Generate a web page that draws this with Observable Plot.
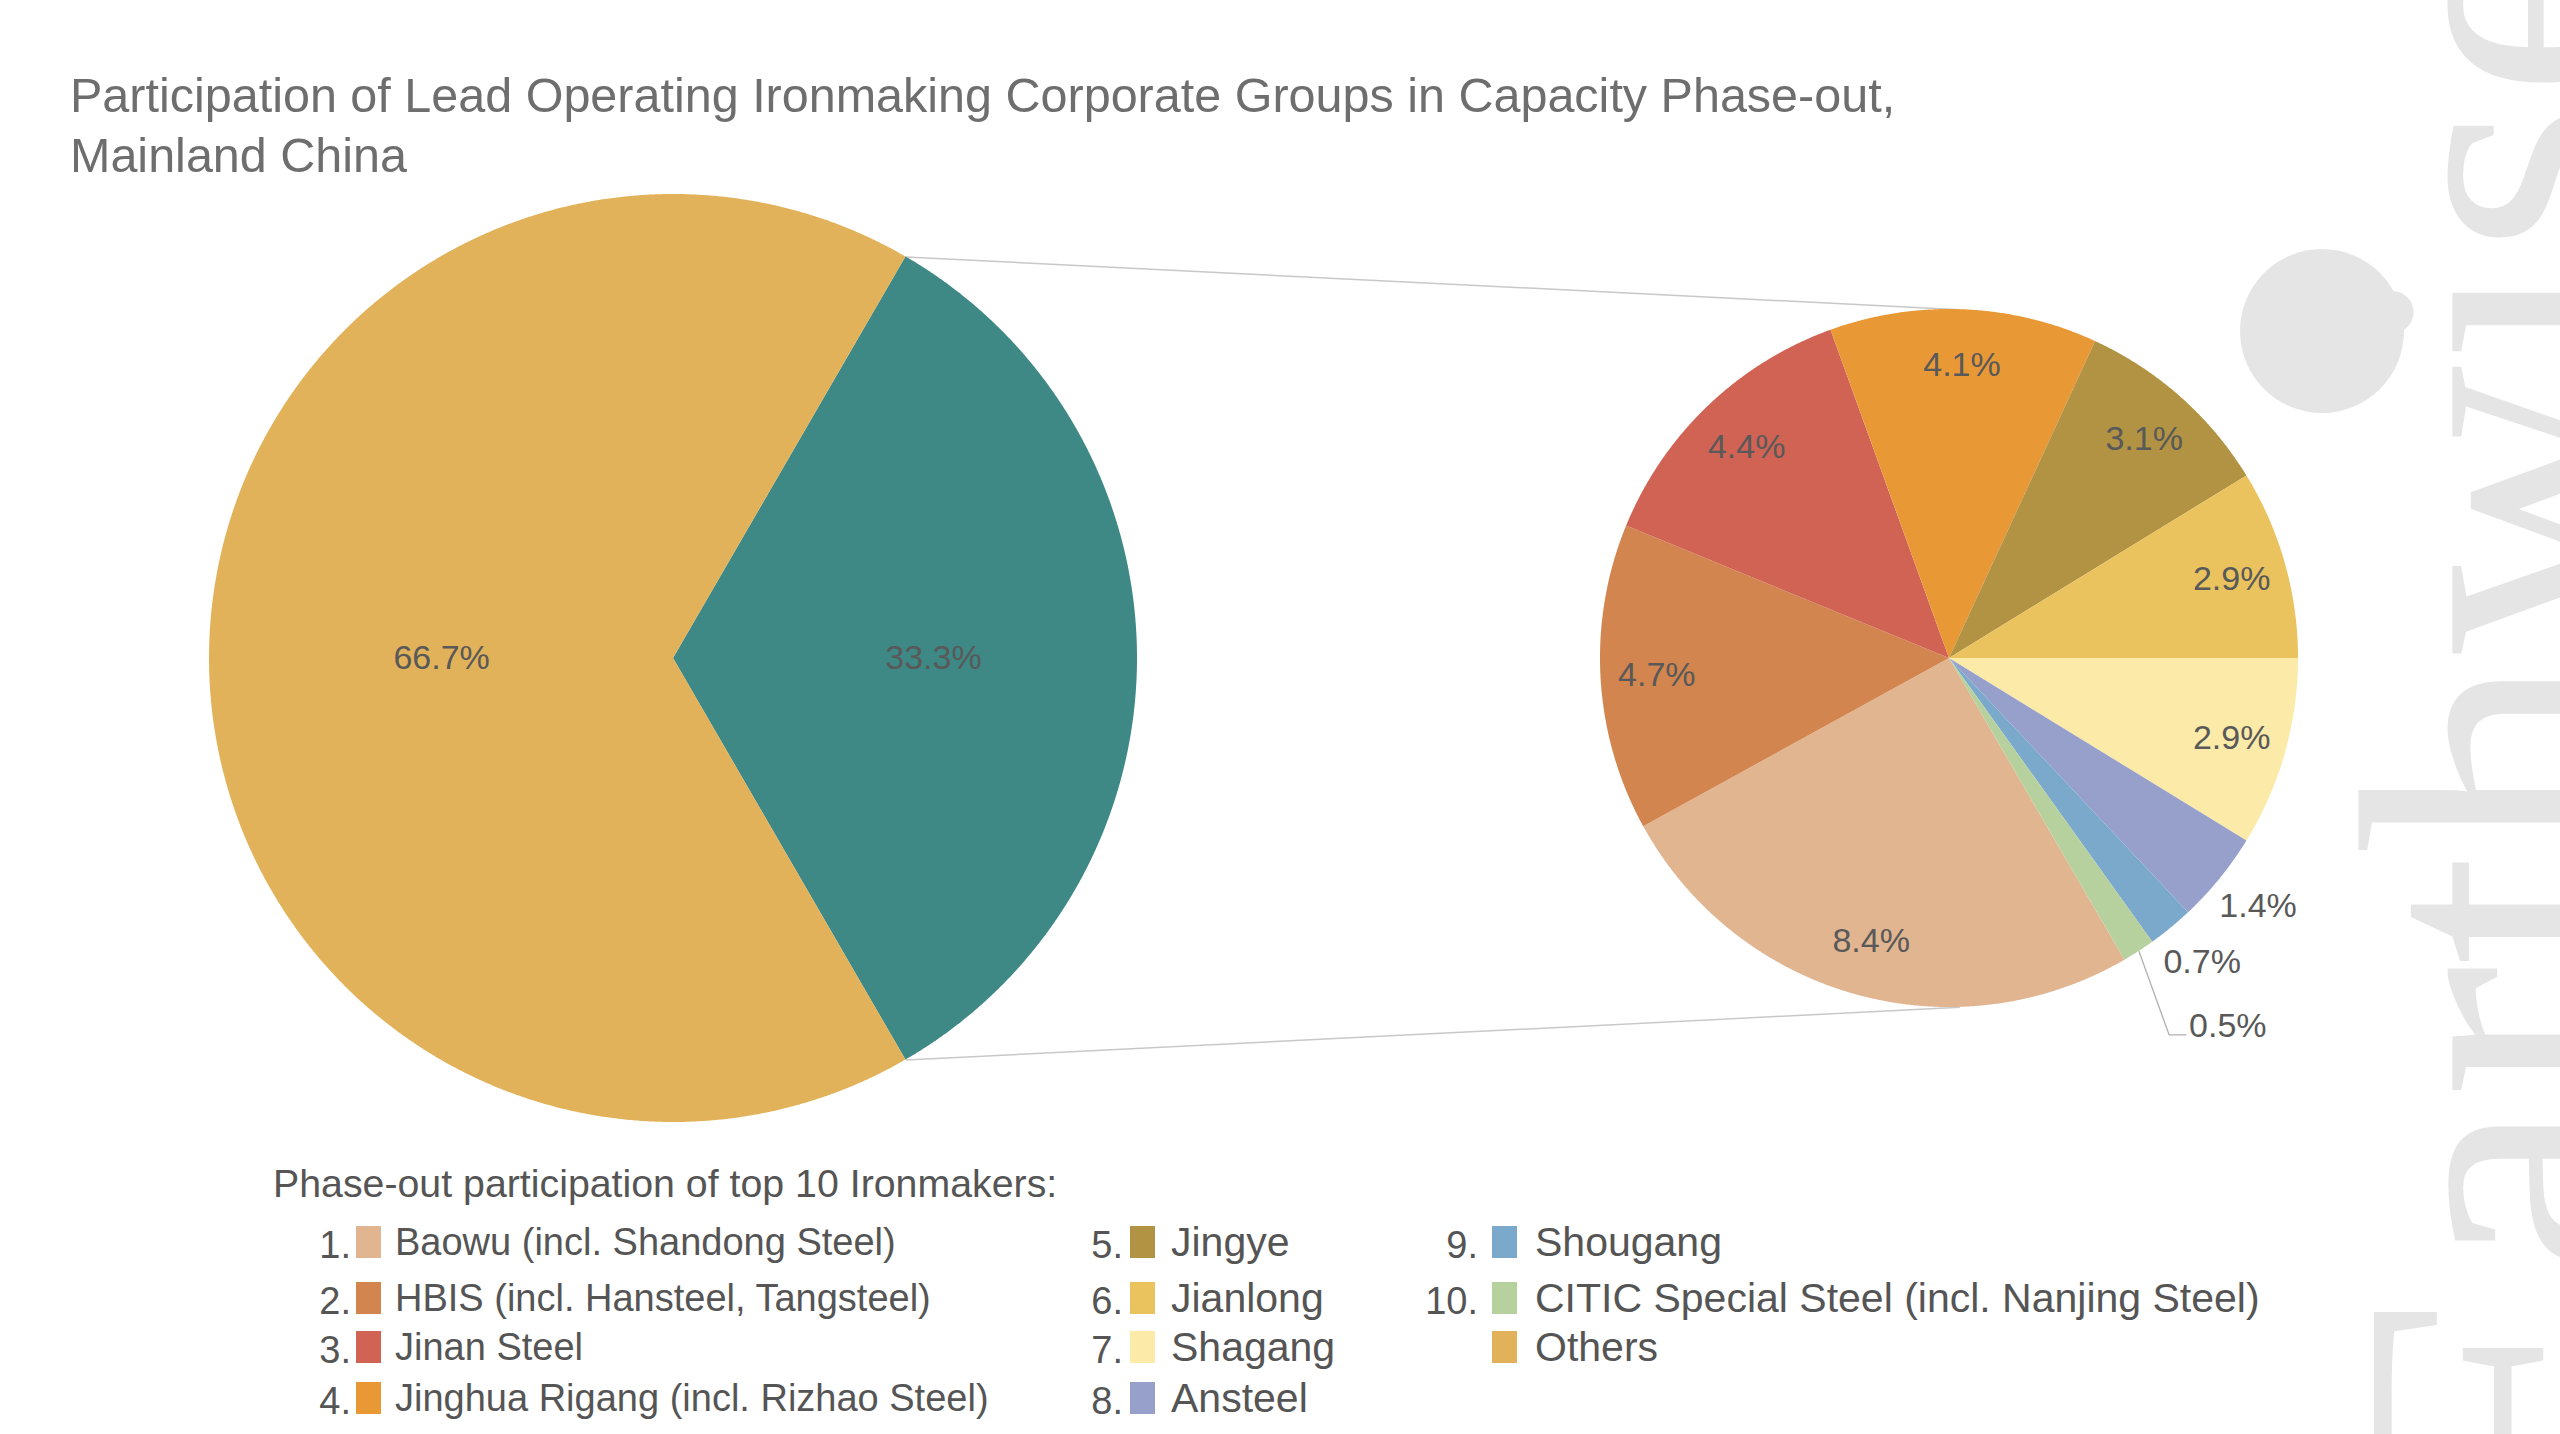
<!DOCTYPE html>
<html><head><meta charset="utf-8">
<script src="https://cdn.jsdelivr.net/npm/d3@7"></script>
<script src="https://cdn.jsdelivr.net/npm/@observablehq/plot@0.6"></script>
<style>
html,body{margin:0;padding:0;background:#fff;}
body{width:2560px;height:1434px;position:relative;overflow:hidden;font-family:"Liberation Sans",Arial,sans-serif;}
#wm{position:absolute;left:0;top:0;width:2560px;height:1434px;z-index:0;pointer-events:none;}
#title{position:relative;z-index:2;height:185px;box-sizing:border-box;padding:65px 0 0 70px;font-size:48.5px;line-height:60px;color:#6e6e6e;}
#chart{position:relative;z-index:2;height:965px;}
#legend{position:relative;z-index:2;height:284px;color:#555;font-size:38px;}
#legend div{position:absolute;white-space:pre;line-height:1;}
</style></head>
<body>
<svg id="wm" xmlns="http://www.w3.org/2000/svg">
  <text transform="translate(2636,1520) rotate(-90)" font-family="Liberation Serif, serif" font-size="400" fill="#e5e5e5">Earthwise</text>
  <circle cx="2322" cy="331" r="82" fill="#e5e5e5"></circle>
</svg>
<div id="title"></div>
<div id="chart"></div>
<div id="legend"></div>
<script>
// ---- data ----
const titleLines = ["Participation of Lead Operating Ironmaking Corporate Groups in Capacity Phase-out,", "Mainland China"];
const overviewLabels = ["Top 10 ironmakers", "Others"];
const overviewShares = [33.3, 66.7];
const overviewColors = ["#3e8885", "#e2b25a"];
const companies = ["Baowu (incl. Shandong Steel)", "HBIS (incl. Hansteel, Tangsteel)", "Jinan Steel", "Jinghua Rigang (incl. Rizhao Steel)", "Jingye", "Jianlong", "Shagang", "Ansteel", "Shougang", "CITIC Special Steel (incl. Nanjing Steel)"];
const shares = [8.4, 4.7, 4.4, 4.1, 3.1, 2.9, 2.9, 1.4, 0.7, 0.5];
const companyColors = ["#e1b590", "#d2854e", "#d16355", "#e99836", "#b29343", "#ebc35e", "#fbeaa8", "#979fcb", "#7ba9cb", "#b7d19e"];
const legendTitle = "Phase-out participation of top 10 Ironmakers:";
const othersLabel = "Others";

// ---- title ----
document.getElementById("title").innerHTML = titleLines.join("<br>");

// ---- geometry ----
const W = 2560, H = 965;
const big = {cx: 673, cy: 473, r: 464};
const small = {cx: 1949, cy: 473, r: 349};
const pt = (c, a, k) => ({x: c.cx + c.r * k * Math.sin(a), y: c.cy - c.r * k * Math.cos(a)});

function sliceRows(key, a0, a1, c) {
  const n = Math.max(4, Math.ceil((a1 - a0) / (Math.PI / 720)));
  const rows = [];
  for (let i = 0; i <= n; i++) {
    const a = a0 + (a1 - a0) * i / n;
    const p = pt(c, a, 1);
    rows.push({key, x1: c.cx, y1: c.cy, x2: p.x, y2: p.y});
  }
  return rows;
}

// overview pie: top-10 slice centred on the east direction
const ovTotal = d3.sum(overviewShares);
const ovStart = Math.PI / 2 - Math.PI * overviewShares[0] / ovTotal;
const ovArcs = d3.pie().sort(null).startAngle(ovStart).endAngle(ovStart + 2 * Math.PI)(overviewShares);

// detail pie: Baowu..CITIC clockwise, with CITIC ending at east
const total = d3.sum(shares);
const dStart = Math.PI / 2 + 2 * Math.PI * d3.sum(shares.slice(6)) / total;
const dArcs = d3.pie().sort(null).startAngle(dStart).endAngle(dStart + 2 * Math.PI)(shares);

const rows = [];
ovArcs.forEach((a, i) => rows.push(...sliceRows(overviewLabels[i], a.startAngle, a.endAngle, big)));
dArcs.forEach((a, i) => rows.push(...sliceRows(companies[i], a.startAngle, a.endAngle, small)));

const fmt = v => v.toFixed(1) + "%";
const ovText = ovArcs.map((a, i) => {
  const p = pt(big, (a.startAngle + a.endAngle) / 2, 0.53);
  return {x: p.x + 14, y: p.y, t: fmt(overviewShares[i])};
});

const inText = [], outMid = [], outStart = [], leaders = [];
let prevY = -Infinity;
const norm = a => ((a - Math.PI / 2) % (2 * Math.PI) + 2 * Math.PI) % (2 * Math.PI);
dArcs.map((a, i) => ({a, i})).sort((p, q) => norm(p.a.startAngle) - norm(q.a.startAngle))
  .forEach(({a, i}) => {
    const mid = (a.startAngle + a.endAngle) / 2;
    if (shares[i] >= 2) {
      inText.push({...pt(small, mid, 0.84), t: fmt(shares[i])});
    } else {
      const p = pt(small, mid, 1.14);
      if (p.y - prevY < 55) {
        const e = pt(small, mid, 1);
        const y = prevY + 60, x = e.x + 50;
        outStart.push({x, y, t: fmt(shares[i])});
        leaders.push({x: e.x, y: e.y}, {x: x - 20, y: y + 9}, {x: x - 3, y: y + 9});
        prevY = y;
      } else {
        outMid.push({x: p.x, y: p.y - 4, t: fmt(shares[i])});
        prevY = p.y;
      }
    }
  });

const topL = ovArcs[0];
const connectors = [
  {a: pt(big, topL.startAngle, 1), b: pt(small, 0.03, 1)},
  {a: pt(big, topL.endAngle, 1), b: pt(small, Math.PI - 0.03, 1)}
].map(d => ({x1: d.a.x, y1: d.a.y, x2: d.b.x, y2: d.b.y}));

const font = "Liberation Sans, Arial, sans-serif";
const txt = {x: "x", y: "y", text: "t", fontSize: 34, fill: "#595959", fontFamily: font};
const plot = Plot.plot({
  width: W, height: H, margin: 0,
  style: {background: "transparent", overflow: "visible"},
  x: {domain: [0, W], range: [0, W], axis: null},
  y: {domain: [0, H], range: [0, H], axis: null},
  color: {domain: [...companies, ...overviewLabels], range: [...companyColors, ...overviewColors]},
  marks: [
    Plot.link(connectors, {x1: "x1", y1: "y1", x2: "x2", y2: "y2", stroke: "#c8c8c8", strokeWidth: 1.5}),
    Plot.area(rows, {x1: "x1", y1: "y1", x2: "x2", y2: "y2", z: "key", fill: "key", curve: "linear"}),
    Plot.line(leaders, {x: "x", y: "y", stroke: "#b0b0b0", strokeWidth: 1.3}),
    Plot.text(ovText, txt),
    Plot.text(inText, txt),
    Plot.text(outMid, txt),
    Plot.text(outStart, {...txt, textAnchor: "start"})
  ]
});
document.getElementById("chart").appendChild(plot);

// ---- legend ----
const lg = document.getElementById("legend");
const TOP = 1150;
function add(html, css) { const d = document.createElement("div"); d.textContent = html; Object.assign(d.style, css); lg.appendChild(d); return d; }
add(legendTitle, {left: "273px", top: (1184 - TOP - 20) + "px", fontSize: "39.3px"});
const cols = [{num: 351, sw: 356, lab: 395, fs: 38}, {num: 1123, sw: 1130, lab: 1171, fs: 41}, {num: 1478, sw: 1492, lab: 1535, fs: 41}];
const rowY = [1242, 1298, 1347, 1398];
const items = companies.map((c, i) => ({n: (i + 1) + ".", c, col: companyColors[i]})).concat([{n: "", c: othersLabel, col: overviewColors[1]}]);
items.forEach((it, i) => {
  const ci = Math.min(2, Math.floor(i / 4)), ri = i - ci * 4;
  const col = cols[ci];
  const yc = rowY[ri] - TOP;
  if (it.n) add(it.n, {left: (col.num - 80) + "px", width: "80px", textAlign: "right", top: (yc - 19 + 3) + "px", fontSize: "38px"});
  add("", {left: col.sw + "px", top: (yc - 16) + "px", width: "25px", height: "32px", background: it.col});
  add(it.c, {left: col.lab + "px", top: (yc - col.fs / 2) + "px", fontSize: col.fs + "px"});
});
</script>
</body></html>
